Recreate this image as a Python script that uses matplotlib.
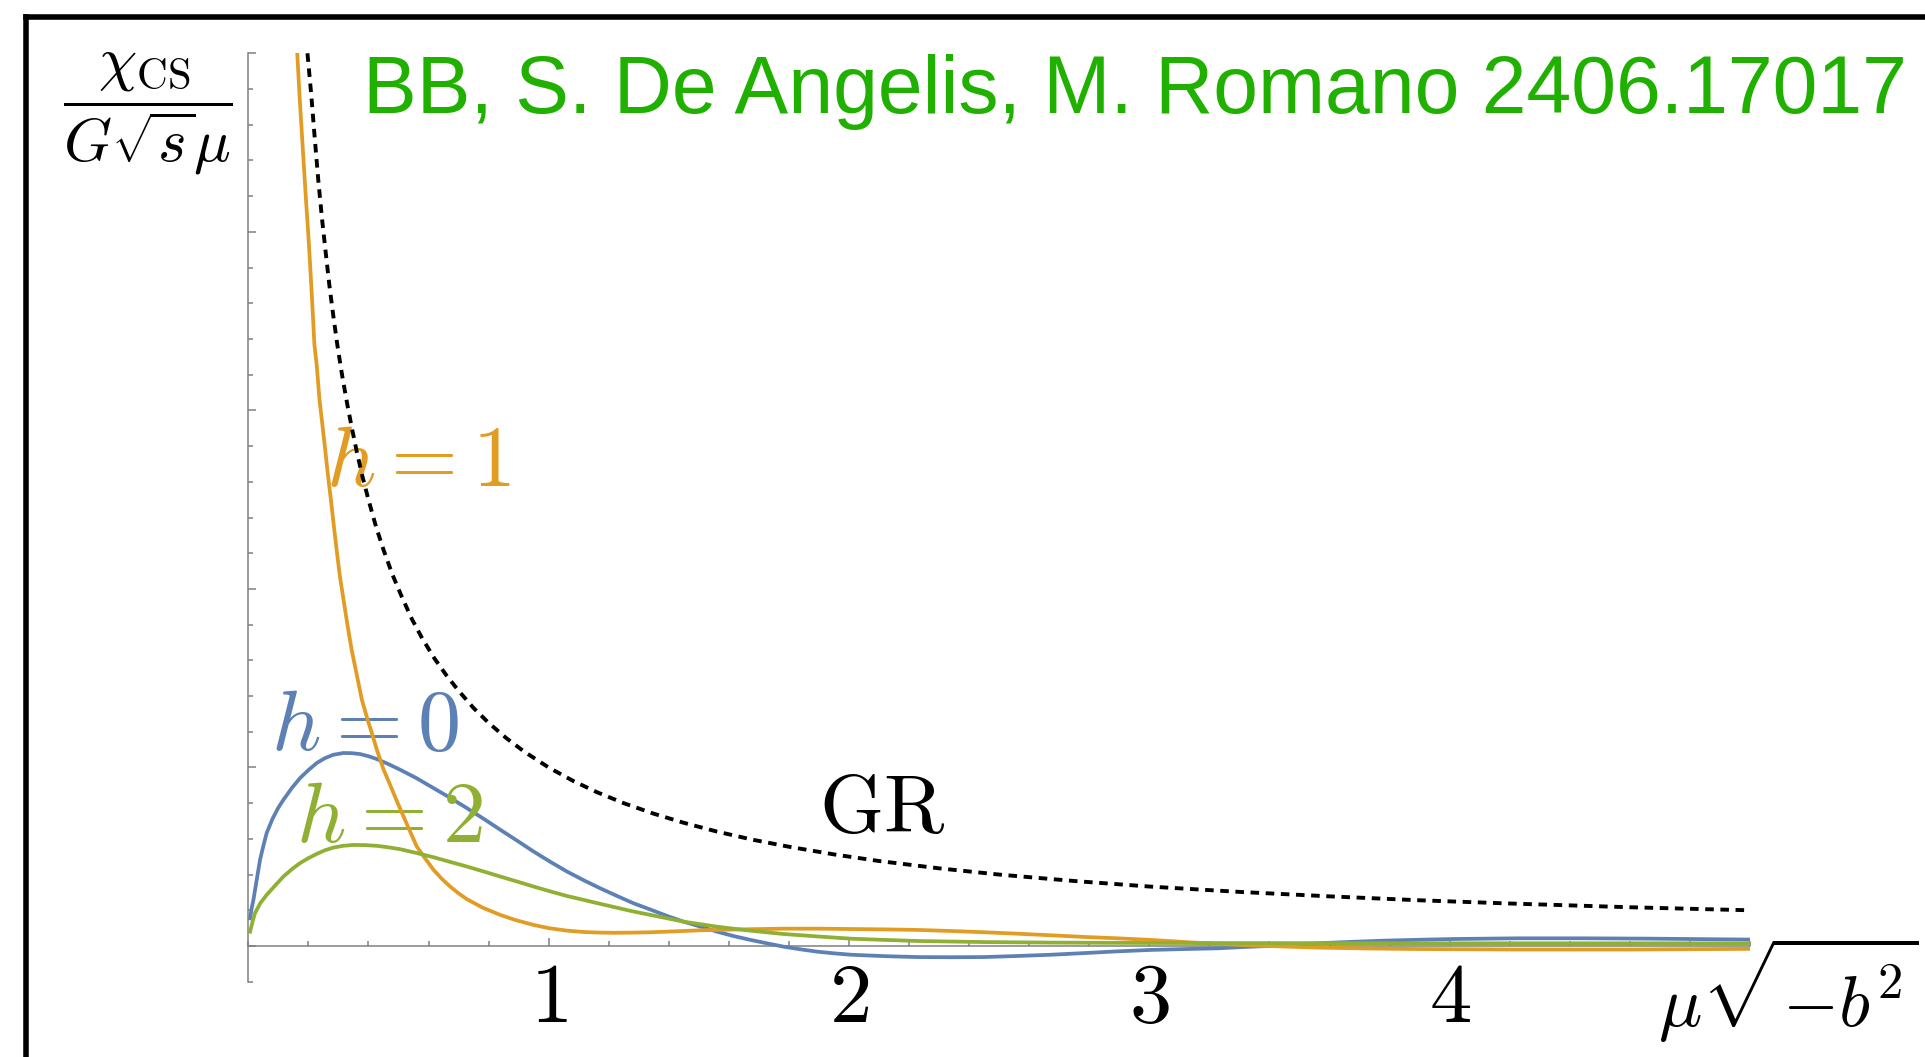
import matplotlib
matplotlib.use('Agg')
import matplotlib.pyplot as plt
from matplotlib.lines import Line2D
from matplotlib.ticker import MultipleLocator

plt.rcParams['mathtext.fontset'] = 'cm'

# h = 0 (blue)
x_h0 = [0.006, 0.011, 0.017, 0.028, 0.039, 0.05, 0.061, 0.08, 0.1, 0.117,
        0.145, 0.172, 0.2, 0.228, 0.255, 0.283, 0.317, 0.345, 0.372, 0.4,
        0.428, 0.465, 0.506, 0.56, 0.617, 0.672, 0.728, 0.784, 0.839, 0.895,
        0.95, 1.005, 1.061, 1.117, 1.172, 1.228, 1.283, 1.339, 1.395, 1.45,
        1.506, 1.561, 1.615, 1.672, 1.73, 1.783, 1.84, 1.895, 1.95, 2.006,
        2.12, 2.228, 2.34, 2.45, 2.56, 2.672, 2.78, 2.894, 3.006, 3.12,
        3.228, 3.31, 3.394, 3.48, 3.561, 3.67, 3.783, 3.9, 4.006, 4.228,
        4.45, 4.672, 5.0]
y_h0 = [0.155, 0.21, 0.258, 0.37, 0.482, 0.56, 0.632, 0.71, 0.775, 0.819,
        0.885, 0.94, 0.985, 1.025, 1.052, 1.071, 1.081, 1.08, 1.075, 1.063,
        1.047, 1.02, 0.987, 0.94, 0.884, 0.83, 0.772, 0.712, 0.651, 0.59,
        0.529, 0.472, 0.417, 0.368, 0.323, 0.28, 0.239, 0.204, 0.168, 0.136,
        0.108, 0.08, 0.056, 0.034, 0.014, -0.004, -0.019, -0.032, -0.041, -0.049,
        -0.057, -0.062, -0.063, -0.062, -0.056, -0.049, -0.04, -0.03, -0.022, -0.017,
        -0.013, -0.006, 0.0, 0.008, 0.015, 0.023, 0.03, 0.035, 0.039, 0.043,
        0.043, 0.041, 0.036]

# h = 1 (orange)
x_h1 = [0.163, 0.17, 0.178, 0.185, 0.192, 0.2, 0.206, 0.213, 0.22, 0.228,
        0.237, 0.246, 0.256, 0.265, 0.275, 0.285, 0.294, 0.305, 0.317, 0.33,
        0.344, 0.361, 0.378, 0.395, 0.41, 0.428, 0.45, 0.472, 0.495, 0.517,
        0.539, 0.561, 0.589, 0.617, 0.645, 0.672, 0.7, 0.728, 0.78, 0.839,
        0.89, 0.95, 1.0, 1.061, 1.12, 1.172, 1.22, 1.283, 1.339, 1.42,
        1.506, 1.561, 1.67, 1.783, 1.9, 2.006, 2.12, 2.228, 2.34, 2.45,
        2.56, 2.672, 2.78, 2.894, 3.006, 3.12, 3.228, 3.394, 3.561, 3.73,
        3.894, 4.228, 4.6, 5.0]
y_h1 = [5.0, 4.78, 4.56, 4.37, 4.18, 3.98, 3.81, 3.6, 3.37, 3.25,
        3.06, 2.93, 2.78, 2.64, 2.5, 2.35, 2.22, 2.07, 1.94, 1.8,
        1.66, 1.52, 1.38, 1.28, 1.2, 1.099, 0.99, 0.903, 0.81, 0.725,
        0.64, 0.557, 0.49, 0.426, 0.375, 0.333, 0.295, 0.262, 0.215, 0.174,
        0.145, 0.118, 0.1, 0.086, 0.078, 0.075, 0.074, 0.075, 0.077, 0.082,
        0.088, 0.09, 0.094, 0.097, 0.097, 0.095, 0.093, 0.09, 0.084, 0.077,
        0.069, 0.06, 0.051, 0.043, 0.034, 0.022, 0.011, 0.0, -0.009, -0.014,
        -0.017, -0.02, -0.02, -0.016]

# h = 2 (green)
x_h2 = [0.006, 0.014, 0.022, 0.04, 0.061, 0.09, 0.117, 0.145, 0.172, 0.2,
        0.228, 0.255, 0.283, 0.315, 0.35, 0.39, 0.428, 0.465, 0.506, 0.56,
        0.617, 0.672, 0.728, 0.784, 0.839, 0.895, 0.95, 1.005, 1.061, 1.117,
        1.172, 1.228, 1.283, 1.339, 1.395, 1.45, 1.506, 1.561, 1.615, 1.672,
        1.73, 1.783, 1.9, 2.006, 2.12, 2.228, 2.34, 2.45, 2.672, 3.0,
        4.0, 5.0]
y_h2 = [0.08, 0.135, 0.183, 0.24, 0.286, 0.34, 0.389, 0.43, 0.464, 0.492,
        0.516, 0.536, 0.551, 0.561, 0.566, 0.565, 0.561, 0.553, 0.542, 0.521,
        0.497, 0.471, 0.445, 0.417, 0.389, 0.361, 0.333, 0.306, 0.28, 0.258,
        0.236, 0.214, 0.193, 0.174, 0.155, 0.136, 0.122, 0.108, 0.097, 0.086,
        0.076, 0.067, 0.053, 0.041, 0.034, 0.028, 0.025, 0.022, 0.019, 0.017,
        0.015, 0.015]

# GR (dotted)
x_gr = [0.197, 0.21, 0.22, 0.233, 0.245, 0.258, 0.27, 0.283, 0.297, 0.313,
        0.33, 0.345, 0.361, 0.38, 0.4, 0.425, 0.45, 0.48, 0.51, 0.545,
        0.58, 0.62, 0.66, 0.7, 0.75, 0.8, 0.86, 0.92, 1.0, 1.08,
        1.16, 1.25, 1.35, 1.45, 1.56, 1.68, 1.8, 1.95, 2.1, 2.3,
        2.5, 2.75, 3.0, 3.3, 3.6, 3.9, 4.2, 4.6, 5.0]
y_gr = [5.0, 4.76, 4.55, 4.29, 4.08, 3.88, 3.7, 3.53, 3.36, 3.19,
        3.03, 2.9, 2.77, 2.63, 2.5, 2.35, 2.22, 2.08, 1.96, 1.83,
        1.72, 1.61, 1.515, 1.43, 1.333, 1.25, 1.163, 1.087, 1.0, 0.926,
        0.862, 0.8, 0.741, 0.69, 0.641, 0.595, 0.556, 0.513, 0.476, 0.435,
        0.4, 0.364, 0.333, 0.303, 0.278, 0.256, 0.238, 0.217, 0.2]

xticks = [1, 2, 3, 4]
xticklabels = [r'$1$', r'$2$', r'$3$', r'$4$']

blue = '#5E81B5'
orange = '#E19C24'
green = '#8FB032'
axcol = '#808080'

W, H = 1925, 1057
fig = plt.figure(figsize=(W / 100, H / 100), dpi=100)
ax = fig.add_axes([248.3 / W, 1 - 981.7 / H, (1750 - 248.3) / W, (981.7 - 53.3) / H])

ax.plot(x_h0, y_h0, color=blue, lw=2.7, zorder=3)
ax.plot(x_h1, y_h1, color=orange, lw=2.7, zorder=4)
ax.plot(x_h2, y_h2, color=green, lw=2.7, zorder=5)
ax.plot(x_gr, y_gr, color='black', lw=2.8, dashes=(2.2, 1.7), zorder=6)

ax.set_xlim(0, 5)
ax.set_ylim(-0.2, 5)
ax.spines['top'].set_visible(False)
ax.spines['right'].set_visible(False)
ax.spines['bottom'].set_position(('data', 0))
for s in ['bottom', 'left']:
    ax.spines[s].set_color(axcol)
    ax.spines[s].set_linewidth(1.1)

ax.set_xticks(xticks)
ax.set_xticklabels(xticklabels, fontsize=61)
ax.xaxis.set_minor_locator(MultipleLocator(0.2))
ax.set_yticks([0, 1, 2, 3, 4, 5])
ax.set_yticklabels([])
ax.yaxis.set_minor_locator(MultipleLocator(0.2))
ax.tick_params(which='both', direction='in', color=axcol, width=1.1)
ax.tick_params(which='major', length=5.5)
ax.tick_params(which='minor', length=3.3)
ax.tick_params(axis='x', pad=8)

# curve labels
ax.text(0.258, 2.578, r'$h=1$', color=orange, fontsize=62, ha='left', va='baseline')
ax.text(0.075, 1.099, r'$h=0$', color=blue, fontsize=62, ha='left', va='baseline')
ax.text(0.16, 0.585, r'$h=2$', color=green, fontsize=62, ha='left', va='baseline')
ax.text(1.9, 0.639, r'$\mathrm{GR}$', color='black', fontsize=59, ha='left', va='baseline')

# axis labels
fig.text(148 / W, 1 - 114 / H, r'$\dfrac{\chi_{\mathrm{CS}}}{G\sqrt{s}\mu}$',
         fontsize=44, ha='center', va='center')
fig.text(1919 / W, 1 - 1027 / H, r'$\mu\sqrt{-b^2}$', fontsize=52, ha='right', va='baseline')

# title
fig.text(363 / W, 1 - 113 / H, 'BB, S. De Angelis, M. Romano 2406.17017',
         color='#20B000', fontsize=58, family='Liberation Sans', ha='left', va='baseline')

# frame
fig.add_artist(Line2D([26 / W, 26 / W], [0, 1 - 16.5 / H], transform=fig.transFigure,
                      color='black', lw=4, solid_capstyle='projecting'))
fig.add_artist(Line2D([26 / W, 1], [1 - 16.5 / H, 1 - 16.5 / H], transform=fig.transFigure,
                      color='black', lw=4, solid_capstyle='projecting'))

fig.savefig('out.png', dpi=100)
